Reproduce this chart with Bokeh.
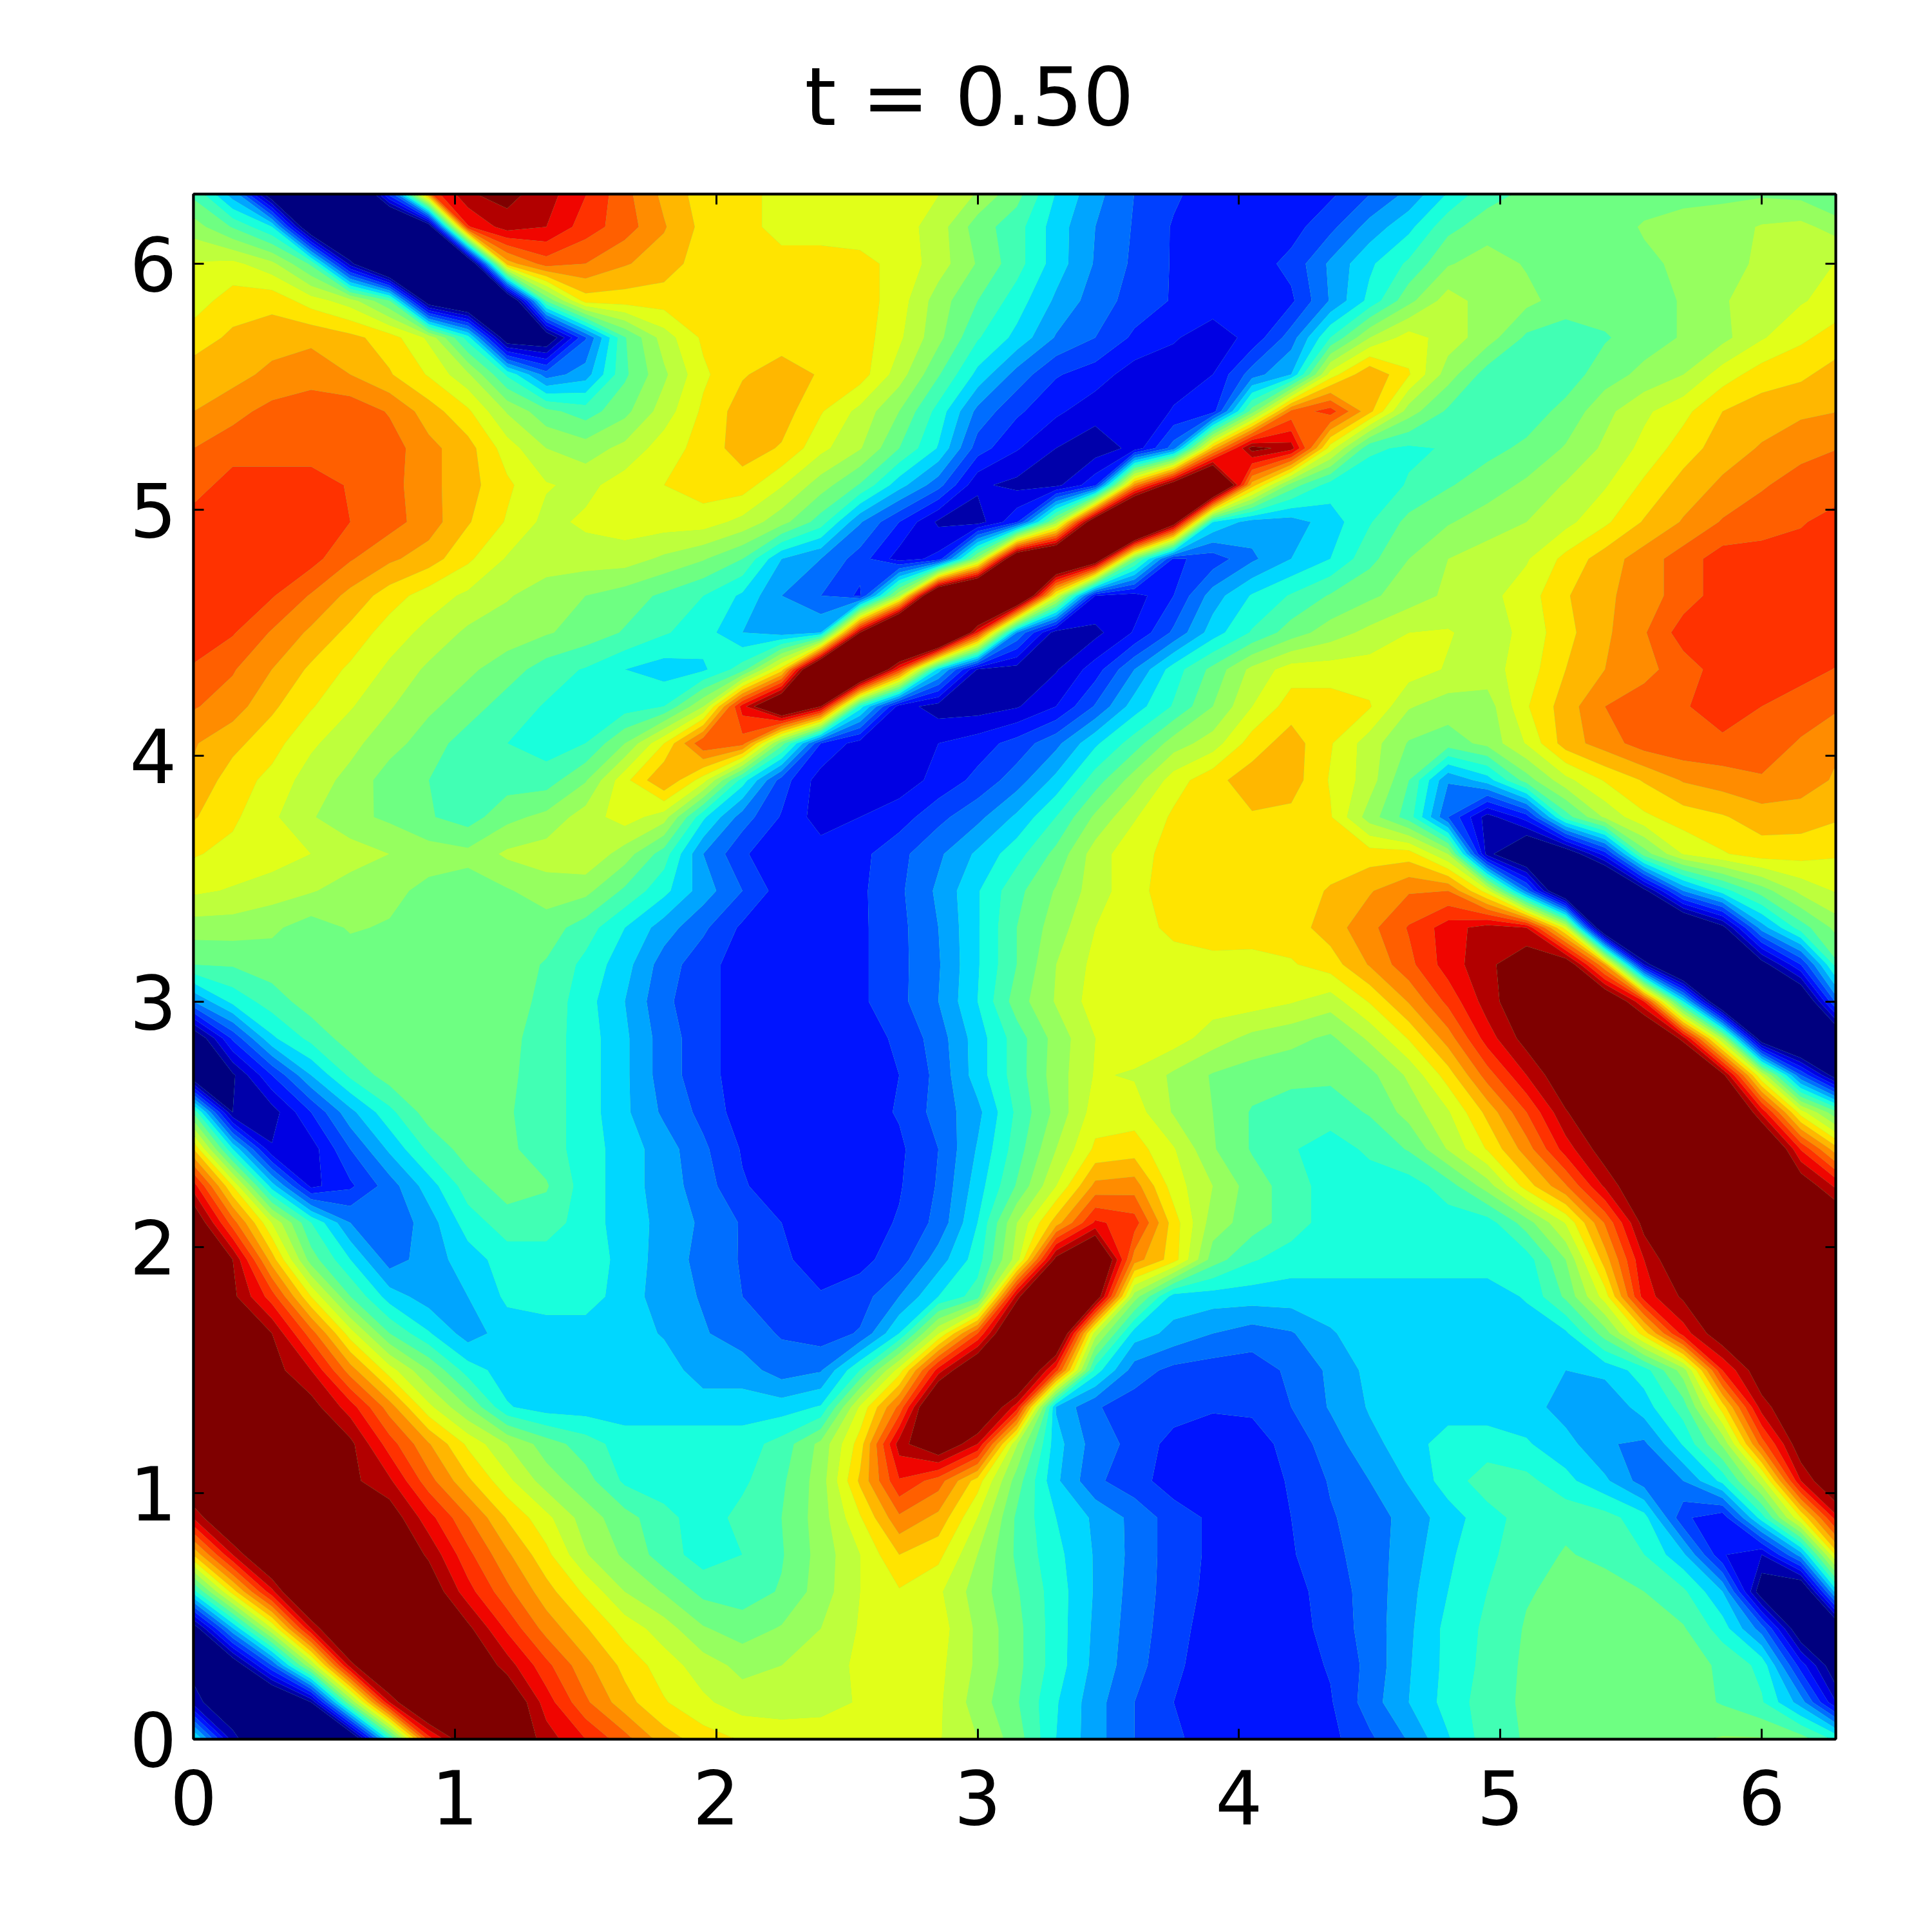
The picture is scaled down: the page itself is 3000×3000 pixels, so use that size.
import math
import numpy as np
from bokeh.plotting import figure
from bokeh.models import Range1d, LinearAxis, FixedTicker, Title
from bokeh.embed import file_html
from bokeh.resources import INLINE

title_text = "t = 0.50"
tick_values = [0, 1, 2, 3, 4, 5, 6]
band_colors = ["#00007f", "#0000aa", "#0000e3", "#0014ff", "#0040ff", "#006eff", "#00a5ff", "#00d7ff",
               "#19ffdc", "#41ffb4", "#6eff82", "#96ff5f", "#beff3c", "#e1ff19", "#ffe400", "#ffb700",
               "#ff8c00", "#ff5f00", "#ff3200", "#f00500", "#b20000", "#7f0000"]
band_edges = [-60] + [k + 0.5 for k in range(21)] + [60]
grid_step = 0.15

r00 = [8,1,-2,-2,-2, 8,18,22,22,20, 18.5,16.9,15,14,13.4, 13.2,13.1,13,13,12.6, 11.5,10,7.5,5.9,4.5, 3.7,3,3,3,3.2, 4.3,5.6,7.4,9,9.6, 10,10,10,10.3,10.6, 10.6,10,8]
r01 = [1,-1,-3,.5,10.5, 19.5,24,23,22,19, 16.7,14.9,13.6,12.7,12, 11.9,12.1,12.6,13,12.7, 11,9.6,7.6,5.9,4.5, 3.5,3,3,3,3.4, 5,6.5,7.9,9,9.7, 10,10,10,10,9.4, 8.6,6,1]
r02 = [0,-1,4.5,11.5,20, 24,24,22,20,17.8, 15.8,14.2,13,12,11.2, 11.5,12,12.7,13,12.8, 11.3,9.8,8,6.2,4.9, 3.7,3,3,3,3.6, 4.8,6.4,7.8,8.8,9.7, 10,10,10,10,9.3, 8.2,3,-1]
r03 = [-.5,6.4,12.5,19.5,24, 25,24,20.8,18.3,16.1, 14.6,13.1,12,10.6,10, 10.6,11.5,12.6,13.4,13, 11.3,9.8,8,6.3,5, 3.9,3,3,3,3.9, 4.9,6.3,7.8,8.7,9.6, 10,10,10,9.6,8, 5,-1,-.5]
r04 = [8,14,19.2,24,25, 24,21.5,18.9,16.8,14.9, 13.3,11.5,10.4,9.2,9, 9.6,11,12.5,13.4,12.7, 11,9.6,8,6.4,5.1, 4,3.2,3,3.1,4, 4.9,6.2,7.5,8.5,9.4, 9.8,10,9.5,8.7,6.5, -.5,-2,8]
r05 = [14.6,19.5,23,24,24, 22,20.3,17.8,15.7,13.8, 11.6,10.3,9,8,8.5, 9.4,10.9,12.5,14.5,13.8, 11.5,9.3,7.8,6.4,5.2, 4,3.3,3,3.4,4.2, 5,6,7.3,8.3,9, 9.6,9.2,8.5,6.7,2.6, 1.5,6,14.6]
r06 = [19.6,23,23,23,22, 21.3,18.9,16.6,14.4,12.8, 11,9.9,8.8,8,8.8, 9.5,11,13.4,16.3,15.2, 12.5,9.3,7.5,6.3,5.2, 4,3.3,3,3.5,4.4, 5,5.9,7,8.1,8.9, 9.2,8.9,7.9,3.7,2.8, 8,13.5,19.6]
r07 = [22.5,23,23,22,20.8, 19.7,16.9,14.7,12.8,11, 9.9,8.3,8,8,8.3, 9.3,11,14.7,18.4,17, 14,10,6.7,4.7,3.9, 3,3,3,3.6,4.6, 5.5,6.6,8,9,8.8, 7.8,6.7,5,5.5,7.8, 12,19.5,22.5]
r08 = [22,22,22,22,20.8, 18,15.6,13.3,11.5,10, 9,8,8,8,8, 8.9,10.8,14,20,22, 19.5,11.6,6.9,5,4.2, 3.1,3,3,3.9,5, 6.2,7,8,8,7.6, 6.9,5.6,5.3,7.6,10.7, 17,21.5,22]
r09 = [21,21,21,21,19, 16,12.8,10.5,7.6,7, 7,7,7,7,7, 7,7.6,12.7,16.8,24, 23,19,6.4,4.6,4, 4,3.6,3.7,4.5,5.6, 6.6,7,7,7,7, 6,5.6,7,9,14, 20,22,21]
r10 = [21,21,21,19.5,16, 13,10.5,8,7,7, 7,7,7,6,6, 5,5.4,8.5,13,19, 23,24,18,8,5, 4.2,4,4,4.7,5.7, 6.8,7,7,7,7, 6.5,6.8,8,11,18.5, 21.5,22,21]
r11 = [21,21,20.5,17,13, 9.5,7.6,6,7,7, 7,7,6.4,5.6,5, 4.4,4,4.6,7.5,12.5, 17.5,24,24,12,7, 6.2,5.5,5,5.4,6.4, 7,7,7,7,7, 7.3,10,14,19,21.5, 22,22,21]
r12 = [21,20.8,18,13.5,9.5, 7,6,6.5,7.7,8, 8,7,6,5.4,4.5, 4,3.6,4,5.5,7.5, 9,20,26,22,11, 7,7,7,7,7, 7,7,7,7,7.6, 9.7,13,19,20.7,22, 22,22,21]
r13 = [21,20.5,15,10,7.5, 5,6,7,8,8, 8,7.2,6,5.2,4.4, 3.7,3,3.2,4,6, 8,12,21,24,16, 14,10,8.6,8,8, 8,8,8,8,8, 10.5,15,19.5,22,22, 22,22,21]
r14 = [22,17,12.5,8.5,5.5, 4.7,6,8,9,9, 8,7,6.2,5.3,4.4, 3.5,3,3,3.6,4.8, 7.5,11.5,15,18.7,18, 14,11,10,9,8, 8,8,8,8,10, 12.6,16.6,21,22,22, 22,22,22]
r15 = [19,13.5,7,2.2,3.3, 5,7,9,10,9.6, 8,7,6,5,3.6, 3,3,3,3.4,4.6, 7,9.6,12.5,15.8,16, 13,11.5,10,9,8, 8,8,9,11,14, 16.4,19.7,22,23,23, 23,21.6,19]
r16 = [14.5,7.5,1.6,2,4.5, 6.7,8.7,10,9.7,9, 8,7,6,4.7,3.4, 3,3,3,3.3,4.5, 6.6,9,11.5,13.7,14, 12.6,10.6,9.4,8.6,8, 8.7,9.6,11.6,13.6,16, 19,21.2,23,24,24, 24,18.4,14.5]
r17 = [9.3,.5,1,3.5,6.2, 8.2,10,10,9.6,9, 8,6.7,5.3,4.2,3, 3,3,3,3.6,4.9, 6.2,8.7,10.8,13,13, 11.4,10.5,9.4,9,9, 9.6,10.9,12.4,14.8,17.5, 20.4,22,23,24,25, 19.2,13,9.3]
r18 = [-1,.3,3.5,6.5,8.7, 10,10,10,9.7,9, 8,6.7,5,3.9,3, 3,3,3,3.5,4.8, 7,9,11,12.6,12.4, 11.3,10.4,10,9.8,9.7, 10.2,11.7,14,17,19.5, 21.6,23,24,25,21, 12.5,4.5,-1]
r19 = [-1,3.7,7.3,8.8,10, 10,10,10,9.8,9, 8,6.7,5,3.9,3, 3,3,3,3.7,5, 7,9,10.9,12.5,13, 13,12,11.2,10.8,10.3, 11.7,13.6,16,19,21, 23,24,24,20,11.5, -1,-4,-1]
r20 = [5.5,7.8,9,10,10, 10,10,10,10,9.2, 7.9,6.5,4.7,3.9,3, 3,3,3.3,4.2,5.5, 7.5,10,11.6,13,13, 13,13,13,12.6,12, 13.6,15.6,17.8,20,21.6, 25,23,18.5,7.5,-3, -6,-2,5.5]
r21 = [9.5,9.6,10,10,10, 10,10,10,10,9.4, 8.2,6.9,5,3.9,3, 3,3,3.3,4.2,5.4, 7.4,9.5,11.5,12.8,13, 13,13.2,13,13.4,14, 15.6,17.2,19,20.2,21.5, 22,15.5,1.5,-5,-3, -.2,3.5,9.5]
r22 = [11,11,10.7,10,10.6, 10.4,10,10,10,10, 9,7.5,6,4.7,3.3, 3,3,3.3,4.2,5.5, 7.4,9.5,11,12.5,13, 13.8,14,14.2,14,15, 16.2,17.6,19,20,19.5, 13,-3,-8,-3,0, 6,9,11]
r23 = [12.7,12.4,12,11.6,11, 10.8,10.2,10,10.4,11, 10.8,9.3,7.8,6,4.5, 3,3,3.3,4.3,5.7, 7.4,9.2,10.6,12,13.2, 14,14,14,14,14.6, 15.4,16.4,16.5,13,5, -3,-5,0,5.5,8, 10,11.8,12.7]
r24 = [13.6,13.2,13,12.5,12, 11.5,11,10.8,11.7,12, 12.4,11,9,5.5,3.7, 2.5,3,3.2,4.2,5.3, 6.7,8.1,9.8,12,13.2, 13.8,14,14,14,14, 14,14,11.5,1,-2, -1,3,10,12.6,13.4, 14,13.9,13.6]
r25 = [14.6,13.7,12.7,11.6,10.8, 10.3,9.6,9,10.2,10.8, 12,13,12,7.7,5, 3.4,2,2.5,3,4.2, 5.2,6.7,8.5,10.7,12.4, 13.7,14,14.4,14.2,13.6, 11,9,4.5,1,3, 9,11.7,13.3,14,14.4, 15,15,14.6]
r26 = [15.3,14,13.2,12,11.2, 10,9.5,9,9,9, 10.4,13.2,15.5,13,8, 4,2,2,2,2.8, 3.8,5,6.8,9,11, 13,14.2,15,15,13.4, 12,9.5,5.6,7,10, 12.2,13.6,14.6,15.6,16, 16.4,16,15.3]
r27 = [15.6,14.8,13.9,12.7,11.8, 10.9,10,9,8.5,8, 8.5,10.5,13.5,17.4,17, 10,3.5,2,1.8,2.5, 3,3.9,5.2,7.3,9, 11,12,14,15,13.6, 12,10.4,10,10.8,12.6, 15,16,17,17.3,17.3, 17,16.4,15.6]
r28 = [16.6,16,14.7,13.6,12.6, 11.6,10.7,10,9,8.4, 8,8,8.5,11.5,19, 24,20.5,8,2,1, 1,1.4,2.5,4.6,7, 8.6,10.5,12.5,14,14, 13.6,11.6,11,11,13.4, 15,16.5,17,17.4,18, 17.5,17,16.6]
r29 = [17.4,16.6,15.5,14.3,13.3, 12.3,11.3,10.7,10,9, 8.4,7.5,7,7.3,9, 14,26,27,18,7, 1.4,1,1.4,3,5.5, 8,9.8,11.8,13,13, 13,13,12.4,12.1,13, 14.5,15.5,16.2,17,18, 18.2,17.9,17.4]
r30 = [18,17.6,16.4,15.3,14.2, 13,12.2,11.3,11,10.6, 10.1,9.4,8.6,8,6.5, 6,6.5,20.5,30,30, 18.5,5.5,.9,1.2,2.6, 4.7,7,8.6,10,11, 11.8,12.5,12.6,12,12.8, 14.2,15.3,16.4,18,18, 18,18,18]
r31 = [18,18,17.6,16.4,15.2, 14,13,12.3,11.6,11, 10.5,10,9.3,8.5,7.3, 5.5,4.5,3.3,11.5,26, 29,26,13,2.5,2, 3.5,6,7.6,8.6,9.6, 10.3,11,11.7,12.2,13, 14.4,15.3,16,17,18, 18,18,18]
r32 = [18,18,18,17.9,16.6, 15.7,15,13.7,12.4,12, 12,12,11.3,10.6,9.5, 6.5,5.5,4,2,2.8, 11,24,26,23,10, 3.3,3.9,5.3,6.5,7.5, 9.2,10.5,11.5,12,12.4, 13.8,15,16,17,18, 18,18,18]
r33 = [18,18,18,18,17.5, 16.9,16,14.6,13.4,12.2, 12.7,13,13,13,12.2, 10.9,9,5.6,3.5,1.3, 1,3.3,11,23,31, 22,7.5,6,6,7, 8.4,9.8,10.4,11,11.5, 12.2,13.3,14.6,15.6,16.6, 17,17.4,18]
r34 = [17,18,18,18,17.4, 16.9,15.8,14.9,13.7,12.6, 12.2,13,13.5,14,14, 12.6,11,9.4,6.9,4.9, 1.7,1.2,1.2,3.2,16, 22,27,15,10,8, 7.8,8.6,9.4,10,10.7, 11.6,12.4,13.7,14.9,15.7, 16.4,16.9,17]
r35 = [16.5,17,17,17,17, 17,15.8,14.9,13,11.5, 11,11.8,13,13.9,15, 14.4,12.8,11.6,9.5,7.4, 4,2.6,1.5,.9,1.8, 5,15,21,20,13, 8.7,8.3,8.6,9.2,9.7, 10.6,11.7,12.8,14,15, 15.6,16.2,16.5]
r36 = [15.5,16.2,16.8,17.2,17.2, 16.4,15,13.7,11.4,9.8, 9,10.2,12,13.7,15, 15,13.6,12.2,10.5,8.1, 5.2,3.7,2.7,1.9,1.6, 2.6,3,10,16.8,18, 14.8,11,9.3,8.5,9, 9.8,11.2,12.3,13.2,14.5, 15,15.3,15.5]
r37 = [15,15.1,15.8,16,15.5, 14.6,13.4,11.7,8.3,5, 6,9.3,11.3,13.3,14.4, 15,14.4,14,12,9.6, 7.2,5.1,3.6,3,2, 2,2.5,5,6.5,13, 15.4,13.6,11,9,9, 9,10,10.8,11.5,13, 14,14.3,15]
r38 = [14,14.7,15,15.3,14.8, 14,12.3,8,-1,-1, 4.4,9.4,12,13.7,14, 14,14,14,12.7,10.8, 8.6,7.2,5.4,4.5,3.3, 2.6,2,2.8,5,8.5, 11.5,13,12,11,9.3, 9,9.4,10,10.6,11.2, 12.4,13.3,14]
r39 = [13,14,14.2,13,12, 9.5,-1,-3,-3,9.6, 14,14,14,14,14, 14,14,14,13,11, 9.5,8,6.3,5,4.1, 3.4,3,3,3.3,5.6, 7.8,10.2,12,11,10.8, 10,10,10,10.6,11.4, 12,12.4,13]
r40 = [12.6,12.8,11.8,9.3,1, -5,-8,-3,15,17, 16.5,15.6,15,14,14, 14,14,13.8,13.2,12, 10.4,8.9,7,5.4,4.3, 3.4,3,3,3.8,5.7, 7.3,8.7,10.4,11,10.4, 10,10,10.3,10.7,11.3, 11.6,12,12.6]
r41 = [11,9.4,7.5,-2,-5, -5,-1,18.4,20,19.5, 18,17,15.6,14.2,14, 13,13,13,13,12, 10,8.9,7,5.5,4.4, 3.4,3,3,3.1,4.2, 5.9,7.2,9.2,10,10, 10,10,10.6,11,11, 11.6,11.8,11]
r42 = [9,5.5,-2,-4,-4, 5,18,20.5,21,20, 18.6,16.8,15.2,14,13.6, 13.4,13.2,13,13,12.6, 11.5,10,7.5,5.9,4.5, 3.7,3,3,3,3.2, 4.3,5.6,7.4,9,9.6, 10,10,10,10,10.2, 10.2,10,9]

z = np.array([r00, r01, r02, r03, r04, r05, r06, r07, r08, r09, r10, r11, r12, r13, r14, r15, r16, r17, r18, r19, r20,
              r21, r22, r23, r24, r25, r26, r27, r28, r29, r30, r31, r32, r33, r34, r35, r36, r37, r38, r39, r40, r41, r42], dtype=float)
xs = np.arange(z.shape[1]) * grid_step
ys = np.arange(z.shape[0]) * grid_step

p = figure(width=3000, height=3000, output_backend="svg", toolbar_location=None,
           x_range=Range1d(0, 2 * math.pi), y_range=Range1d(0, 2 * math.pi),
           min_border_left=300, min_border_right=150, min_border_top=300, min_border_bottom=300,
           x_axis_location=None, y_axis_location=None)
p.grid.visible = False
p.background_fill_color = "#6eff82"
p.contour(xs, ys, z, levels=band_edges, fill_color=band_colors, line_color=None)

def style(axis, labels):
    axis.ticker = FixedTicker(ticks=tick_values)
    axis.axis_line_color = "black"
    axis.axis_line_width = 4
    axis.major_tick_in = 16
    axis.major_tick_out = 0
    axis.minor_tick_line_color = None
    axis.major_tick_line_color = "black"
    axis.major_tick_line_width = 3
    if labels:
        axis.major_label_text_font = "DejaVu Sans"
        axis.major_label_text_font_size = "115px"
        axis.major_label_text_color = "black"
    else:
        axis.major_label_text_font_size = "0px"
        axis.major_label_text_color = None

bottom, left, top, right = LinearAxis(), LinearAxis(), LinearAxis(), LinearAxis()
for ax, place, lab in [(bottom, "below", True), (left, "left", True), (top, "above", False), (right, "right", False)]:
    style(ax, lab)
    p.add_layout(ax, place)
bottom.major_label_standoff = 47
left.major_label_standoff = 26
p.outline_line_color = "black"
p.outline_line_width = 4

p.add_layout(Title(text=title_text, align="left", offset=949, standoff=154, vertical_align="top",
                   text_font="DejaVu Sans", text_font_size="125px", text_font_style="normal",
                   text_color="black"), "above")

open("out.html", "w").write(file_html(p, INLINE))
